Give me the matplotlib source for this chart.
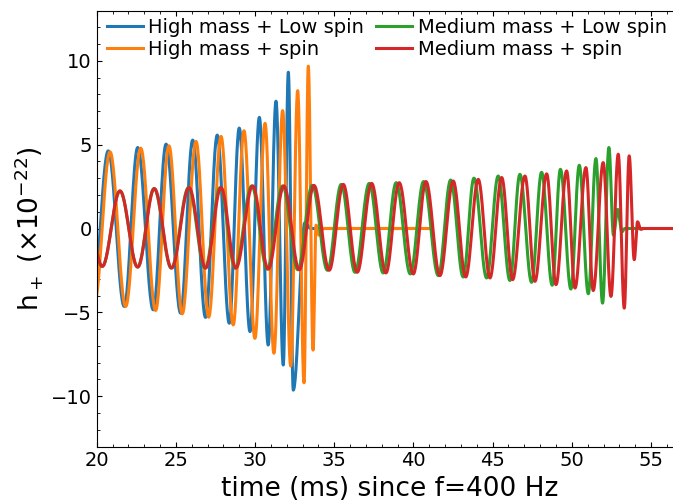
import numpy as np
import matplotlib
matplotlib.use('Agg')
import matplotlib.pyplot as plt
from matplotlib.ticker import MultipleLocator

# extrema of each waveform: time (ms), h+ (x1e-22)
blue_t = [19.72, 20.73, 21.74, 22.59, 23.57, 24.38, 25.30, 26.06, 26.87, 27.61, 28.37,
          29.00, 29.68, 30.27, 30.83, 31.32, 31.78, 32.10, 32.41, 33.15, 33.5]
blue_h = [-4.5, 4.63, -4.65, 4.83, -4.85, 5.03, -5.05, 5.27, -5.3, 5.57, -5.65,
          5.99, -6.15, 6.63, -6.95, 7.59, -8.14, 9.32, -9.64, 0.35, 0.0]
blue_end = 40.9

orange_t = [19.85, 20.84, 21.83, 22.78, 23.72, 24.56, 25.40, 26.27, 27.07, 27.85, 28.62,
            29.30, 29.99, 30.63, 31.19, 31.74, 32.25, 32.69, 33.09, 33.36, 33.66, 33.85,
            34.03, 34.3]
orange_h = [-4.5, 4.57, -4.65, 4.79, -4.89, 4.93, -5.09, 5.19, -5.29, 5.49, -5.75,
            5.83, -6.55, 6.27, -7.44, 7.03, -8.2, 8.22, -9.2, 9.68, -7.25, 0.2,
            -0.4, 0.0]
orange_end = 40.95

green_t = [19.23, 20.35, 21.47, 22.58, 23.62, 24.71, 25.80, 26.84, 27.80, 28.74, 29.79,
           30.76, 31.74, 32.70, 33.61, 34.57, 35.44, 36.31, 37.21, 38.09, 38.91, 39.80,
           40.64, 41.57, 42.35, 43.14, 43.82, 44.62, 45.35, 46.09, 46.72, 47.46, 48.09,
           48.76, 49.28, 49.94, 50.47, 51.04, 51.52, 51.94, 52.34, 52.63, 52.89, 53.16,
           53.35]
green_h = [2.2, -2.26, 2.24, -2.3, 2.38, -2.36, 2.44, -2.36, 2.44, -2.36, 2.54,
           -2.42, 2.54, -2.46, 2.57, -2.49, 2.63, -2.61, 2.69, -2.65, 2.73, -2.71,
           2.8, -2.81, 2.89, -2.89, 3.0, -2.95, 3.13, -3.1, 3.23, -3.21, 3.35,
           -3.38, 3.53, -3.61, 3.77, -3.89, 4.17, -4.45, 4.83, -0.4, 1.14, -0.2,
           0.0]
green_end = 58.0

red_t = [19.23, 20.35, 21.47, 22.59, 23.64, 24.73, 25.83, 26.88, 27.85, 28.79, 29.85,
         30.83, 31.82, 32.79, 33.72, 34.68, 35.57, 36.45, 37.36, 38.26, 39.10, 39.99,
         40.79, 41.67, 42.51, 43.30, 44.09, 44.83, 45.57, 46.26, 47.04, 47.67, 48.41,
         49.00, 49.67, 50.20, 50.89, 51.35, 51.98, 52.47, 52.93, 53.31, 53.62, 53.94,
         54.15, 54.35, 54.55]
red_h = [2.2, -2.26, 2.24, -2.3, 2.38, -2.36, 2.44, -2.36, 2.44, -2.36, 2.54,
         -2.42, 2.54, -2.46, 2.57, -2.49, 2.63, -2.61, 2.69, -2.65, 2.73, -2.71,
         2.8, -2.81, 2.83, -2.89, 2.93, -2.95, 3.04, -3.05, 3.13, -3.15, 3.26,
         -3.35, 3.43, -3.55, 3.63, -3.7, 3.93, -4.05, 4.43, -4.75, 4.33, -1.86,
         0.4, -0.05, 0.0]
red_end = 58.0

labels = ['High mass + Low spin', 'High mass + spin',
          'Medium mass + Low spin', 'Medium mass + spin']


def trace(times, amps, t_end, n=30):
    # half-cosine between successive extrema, then flat after the ringdown
    ts, hs = [], []
    for i in range(len(times) - 1):
        s = np.linspace(0, 1, n, endpoint=False)
        ts.append(times[i] + (times[i + 1] - times[i]) * s)
        hs.append(amps[i] + (amps[i + 1] - amps[i]) * (1 - np.cos(np.pi * s)) / 2)
    ts.append(np.array([times[-1], t_end]))
    hs.append(np.array([amps[-1], amps[-1]]))
    return np.concatenate(ts), np.concatenate(hs)


fig = plt.figure(figsize=(6.73, 5.01), dpi=100)
ax = fig.add_axes([96.7 / 673, 54.5 / 501, 586 / 673, 436 / 501])

series = [(blue_t, blue_h, blue_end), (orange_t, orange_h, orange_end),
          (green_t, green_h, green_end), (red_t, red_h, red_end)]
for (t, h, end), lab, c in zip(series, labels, ['C0', 'C1', 'C2', 'C3']):
    x, y = trace(t, h, end)
    ax.plot(x, y, color=c, lw=2.2, label=lab)

ax.set_xlim(20, 57)
ax.set_ylim(-13, 13)
ax.xaxis.set_major_locator(MultipleLocator(5))
ax.xaxis.set_minor_locator(MultipleLocator(1))
ax.yaxis.set_major_locator(MultipleLocator(5))
ax.yaxis.set_minor_locator(MultipleLocator(1))
ax.tick_params(which='both', direction='in', top=True, right=True, labelsize=14)

ax.set_xlabel('time (ms) since f=400 Hz', fontsize=19)
ax.set_ylabel(r'h$_+$ ($\times 10^{-22}$)', fontsize=19)

ax.legend(loc='upper left', bbox_to_anchor=(0.0035, 1.0), ncol=2, frameon=False,
          fontsize=14, handlelength=1.85, handletextpad=0.3, columnspacing=0.6,
          labelspacing=0.15, borderpad=0.2, borderaxespad=0.2)

fig.savefig('out.png', dpi=100)
